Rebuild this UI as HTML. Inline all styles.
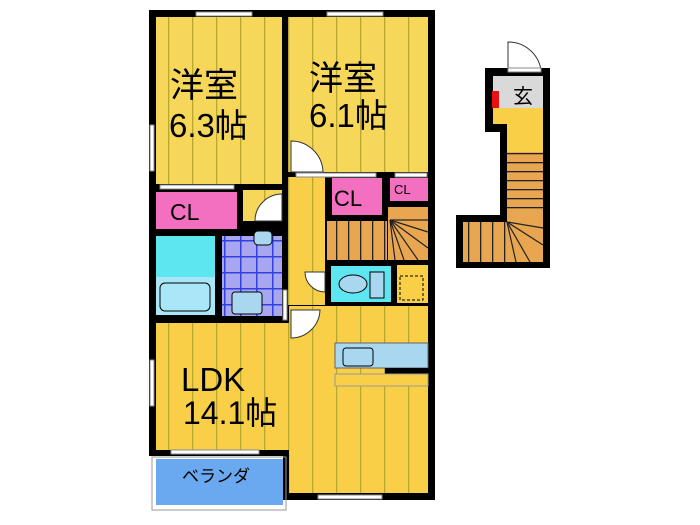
<!DOCTYPE html>
<html><head><meta charset="utf-8"><style>
html,body{margin:0;padding:0;background:#fff;width:700px;height:525px;overflow:hidden}
svg{display:block}
text{font-family:"Liberation Sans","Noto Sans CJK JP",sans-serif;fill:#000}
</style></head><body>
<svg width="700" height="525" viewBox="0 0 700 525" xmlns="http://www.w3.org/2000/svg">
<defs>
<pattern id="fl" width="24" height="10" patternUnits="userSpaceOnUse">
<rect width="24" height="10" fill="#f7d75a"/><rect x="0" width="1.3" height="10" fill="#b8a830"/>
</pattern>
<pattern id="fl2" width="24" height="10" patternUnits="userSpaceOnUse">
<rect width="24" height="10" fill="#f9cf48"/><rect x="0" width="1.3" height="10" fill="#b8a830"/>
</pattern>
<pattern id="st" width="12" height="10" patternUnits="userSpaceOnUse">
<rect width="12" height="10" fill="#e9a650"/><rect width="1.3" height="10" fill="#222"/>
</pattern>
<pattern id="sth" width="10" height="9" patternUnits="userSpaceOnUse">
<rect width="10" height="9" fill="#e9a650"/><rect width="10" height="1.3" fill="#222"/>
</pattern>
<pattern id="tile" width="16" height="16" patternUnits="userSpaceOnUse">
<rect width="16" height="16" fill="#a9a6f0"/><rect width="16" height="1.5" fill="#2f3fe0"/><rect width="1.5" height="16" fill="#2f3fe0"/>
</pattern>
</defs>
<rect x="149" y="10" width="286" height="446" fill="#000"/>
<rect x="282" y="450" width="153" height="50" fill="#000"/>
<rect x="156" y="17" width="126" height="167" fill="url(#fl)"/>
<rect x="156" y="184" width="126" height="6" fill="#000"/>
<rect x="243" y="190" width="39" height="31" fill="url(#fl)"/>
<rect x="156" y="192" width="81" height="37" fill="#f36fc0"/>
<text x="170" y="220" font-size="23">CL</text>
<path d="M282 221 L255 221 A27 27 0 0 1 282 194 Z" fill="#fff" stroke="#333"/>
<rect x="288" y="17" width="140" height="155" fill="url(#fl)"/>
<path d="M291 172 L291 141 A32 32 0 0 1 323 172 Z" fill="#fff" stroke="#333"/>
<rect x="288" y="177" width="37" height="128" fill="url(#fl2)"/>
<rect x="332" y="178" width="50" height="37" fill="#f36fc0"/>
<text x="334" y="206" font-size="22">CL</text>
<rect x="390" y="178" width="38" height="23" fill="#f36fc0"/>
<text x="394" y="194" font-size="13">CL</text>
<rect x="327" y="221" width="60" height="39" fill="url(#st)"/>
<rect x="388" y="207" width="40" height="53" fill="#e9a650"/>
<g stroke="#222" stroke-width="1.2">
<line x1="390" y1="220" x2="428" y2="220"/><line x1="390" y1="220" x2="428" y2="232"/><line x1="390" y1="220" x2="428" y2="248"/><line x1="390" y1="220" x2="418" y2="260"/><line x1="390" y1="220" x2="404" y2="260"/><line x1="390" y1="220" x2="395" y2="260"/></g>
<rect x="331" y="266" width="60" height="36" fill="#5ee6f0"/>
<ellipse cx="353" cy="284" rx="14" ry="9" fill="#a9d7f0" stroke="#000"/>
<rect x="370" y="272" width="14" height="26" fill="#a9d7f0" stroke="#000"/>
<rect x="397" y="265" width="31" height="38" fill="#f9cf48"/>
<rect x="400" y="276" width="23" height="24" fill="none" stroke="#000" stroke-dasharray="3,2"/>
<path d="M305 272 A20 20 0 0 0 325 292 L325 272 Z" fill="#fff" stroke="#333"/>
<rect x="156" y="236" width="59" height="41" fill="#5ee6f0"/>
<rect x="156" y="277" width="59" height="38" fill="#a9e6f7"/>
<rect x="160" y="283" width="50" height="28" rx="5" fill="#a9e6f7" stroke="#000"/>
<rect x="222" y="236" width="60" height="80" fill="url(#tile)"/>
<rect x="232" y="292" width="30" height="22" rx="3" fill="#a9d7f0" stroke="#000"/>
<rect x="254" y="231" width="18" height="14" rx="4" fill="#a9d7f0" stroke="#000"/>
<rect x="156" y="323" width="272" height="127" fill="url(#fl2)"/>
<rect x="289" y="306" width="139" height="20" fill="url(#fl2)"/>
<rect x="289" y="450" width="139" height="43" fill="url(#fl2)"/>
<path d="M291 310 L320 310 A29 29 0 0 1 291 338 Z" fill="#fff" stroke="#333"/>
<rect x="335" y="343" width="93" height="25" fill="#a9d7f0" stroke="#666"/>
<rect x="343" y="348" width="30" height="18" rx="3" fill="#a9d7f0" stroke="#000"/>
<rect x="385" y="368" width="43" height="6" fill="#000"/>
<rect x="335" y="374" width="93" height="12" fill="#f9cf48" stroke="#999"/>
<text x="181" y="391" font-size="33">LDK</text>
<text x="183" y="424" font-size="32">14.1帖</text>
<rect x="149" y="456" width="134" height="52" fill="#fff"/>
<rect x="152" y="457" width="134" height="53" fill="none" stroke="#999"/>
<rect x="156" y="459" width="127" height="46" fill="#6aa9ef"/>
<text x="182" y="482" font-size="17">ベランダ</text>
<g fill="#fff" stroke="#888">
<rect x="196" y="12" width="56" height="4"/><rect x="327" y="12" width="56" height="4"/>
<rect x="150" y="125" width="4" height="46"/><rect x="150" y="360" width="4" height="46"/>
<rect x="171" y="450" width="88" height="4"/><rect x="318" y="495" width="64" height="4"/>
<rect x="160" y="185" width="74" height="4"/><rect x="296" y="173" width="80" height="4"/><rect x="395" y="173" width="32" height="4"/>
<rect x="283" y="290" width="4" height="30"/>
</g>
<text x="170" y="97" font-size="34">洋室</text>
<text x="169" y="137" font-size="33">6.3帖</text>
<text x="309" y="90" font-size="34">洋室</text>
<text x="309" y="127" font-size="33">6.1帖</text>
<path d="M485 68 L550 68 L550 268 L456 268 L456 215 L500 215 L500 132 L485 132 Z" fill="#000"/>
<rect x="493" y="76" width="50" height="32" fill="#d9d9d9"/>
<rect x="507" y="108" width="36" height="44" fill="#f9cf48"/>
<rect x="493" y="108" width="14" height="16" fill="#f9cf48"/>
<rect x="507" y="152" width="36" height="63" fill="url(#sth)"/>
<rect x="463" y="222" width="44" height="40" fill="url(#st)"/>
<rect x="507" y="215" width="36" height="47" fill="#e9a650"/>
<g stroke="#222" stroke-width="1.2"><line x1="507" y1="222" x2="543" y2="228"/><line x1="507" y1="222" x2="543" y2="245"/><line x1="507" y1="222" x2="530" y2="262"/><line x1="507" y1="222" x2="516" y2="262"/></g>
<rect x="492" y="91" width="7" height="17" fill="#e81010"/>
<path d="M508 70 L508 42 A33 33 0 0 1 541 70" fill="#fff" stroke="#333"/>
<rect x="508" y="68" width="33" height="4" fill="#fff" stroke="#888"/>
<text x="513" y="103" font-size="20">玄</text>
</svg>
</body></html>
